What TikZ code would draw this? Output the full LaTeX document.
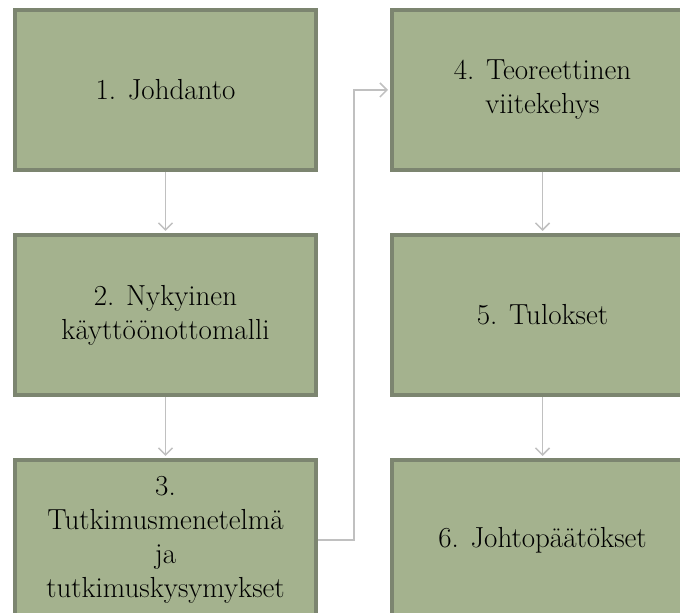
\documentclass[tikz,border=0pt]{standalone}
\usepackage{fontspec}
\usetikzlibrary{positioning,arrows.meta}
\definecolor{boxgreen}{RGB}{164,178,142}
\definecolor{boxedge}{RGB}{124,133,112}
\definecolor{linegray}{RGB}{192,192,192}

\begin{document}
\begin{tikzpicture}[x=1pt,y=1pt,
  node distance=61pt and 72pt,
  stage/.style={draw=boxedge,line width=4pt,fill=boxgreen,
    minimum width=301pt,minimum height=160pt,inner sep=2pt,
    align=center,font=\fontsize{29}{34}\selectfont},
  flow/.style={draw=linegray,line width=1.5pt,shorten >=2pt,
    -{Straight Barb[length=7pt,width=14pt]}}]

  \useasboundingbox[fill=white] (0,0) rectangle (680,613);

  % left column
  \node[stage] (s1) at (165.5,523) {1. Johdanto};
  \node[stage,below=of s1] (s2) {2. Nykyinen\\käyttöönottomalli};
  \node[stage,below=of s2] (s3) {3.\\Tutkimusmenetelmä\\ja\\tutkimuskysymykset};

  % right column
  \node[stage,right=of s1] (s4) {4. Teoreettinen\\viitekehys};
  \node[stage,below=of s4] (s5) {5. Tulokset};
  \node[stage,below=of s5] (s6) {6. Johtopäätökset};

  % connectors
  \draw[flow] (s1) -- (s2);
  \draw[flow] (s2) -- (s3);
  \draw[flow] (s3.east) -- ++(36,0) |- (s4.west);
  \draw[flow] (s4) -- (s5);
  \draw[flow] (s5) -- (s6);

\end{tikzpicture}
\end{document}
